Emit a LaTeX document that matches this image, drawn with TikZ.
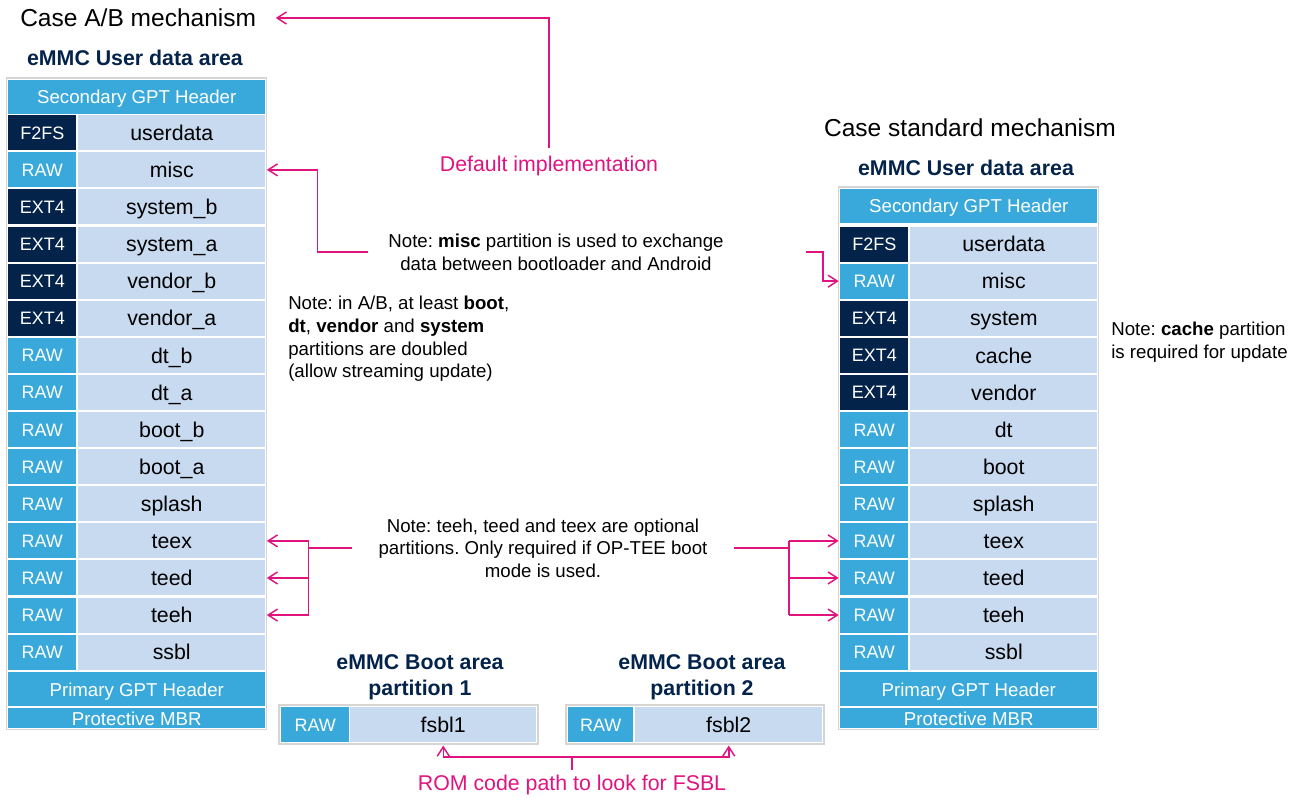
\documentclass[tikz,border=0pt]{standalone}
\usepackage{fontspec}
\setmainfont{Liberation Sans}
\usetikzlibrary{arrows.meta,positioning,calc}
\frenchspacing

\definecolor{stblue}{HTML}{39A9DC}
\definecolor{stnavy}{HTML}{03234B}
\definecolor{stpale}{HTML}{C8DAF0}
\definecolor{stpink}{HTML}{E0137F}
\definecolor{stframe}{HTML}{D5D5D5}

\tikzset{
  cell/.style={inner sep=0pt, anchor=north west, minimum height=26.25pt},
  fscell/.style={cell, fill=stnavy, text=white, minimum width=51pt,
    text height=9.7pt, text depth=0pt, font=\fontsize{13.5}{16}\selectfont},
  rawcell/.style={fscell, fill=stblue},
  namecell/.style={cell, fill=stpale, minimum width=140.25pt,
    text height=11.5pt, text depth=0pt, font=\fontsize{16}{19}\selectfont},
  hdrcell/.style={cell, fill=stblue, text=white, minimum width=192.75pt,
    minimum height=25.5pt, text height=10.1pt, text depth=0pt,
    font=\fontsize{14}{16}\selectfont},
  tableframe/.style={draw=stframe, line width=0.8pt, fill=white},
  area/.style={inner sep=0pt, text=stnavy, align=center,
    font=\bfseries\fontsize{16}{19.5}\selectfont},
  casetitle/.style={inner sep=0pt, font=\fontsize{18.4}{22}\selectfont},
  note/.style={inner sep=0pt, font=\fontsize{14}{17}\selectfont},
  pinktext/.style={inner sep=0pt, text=stpink, font=\fontsize{16}{19}\selectfont},
  pinkline/.style={draw=stpink, line width=1.1pt},
  pinkarrow/.style={pinkline, -{Straight Barb[length=7pt,width=9pt]}, shorten >=1pt},
}

\begin{document}
\begin{tikzpicture}[x=0.75pt, y=-0.75pt]
\useasboundingbox (0,0) rectangle (1305,798);

%% A/B user data area
\node[casetitle, anchor=west] (caseab) at (20,18) {Case A/B mechanism};
\node[area] (larea) at (135,58) {eMMC User data area};
\draw[tableframe] (6.5,78) rectangle (266.5,729.5);
\node[hdrcell] (lhead) at (8,80) {Secondary GPT Header};
\foreach \k/\s/\t/\n in {1/fscell/F2FS/userdata, 2/rawcell/RAW/misc,
    3/fscell/EXT4/system\_b, 4/fscell/EXT4/system\_a, 5/fscell/EXT4/vendor\_b,
    6/fscell/EXT4/vendor\_a, 7/rawcell/RAW/dt\_b, 8/rawcell/RAW/dt\_a,
    9/rawcell/RAW/boot\_b, 10/rawcell/RAW/boot\_a, 11/rawcell/RAW/splash,
    12/rawcell/RAW/teex, 13/rawcell/RAW/teed, 14/rawcell/RAW/teeh,
    15/rawcell/RAW/ssbl} {
  \node[\s] (lt\k) at (8,{115+(\k-1)*37.1}) {\t};
  \node[namecell] (ln\k) at (78,{115+(\k-1)*37.1}) {\n};
}
\node[hdrcell] (lprim) at (8,672) {Primary GPT Header};
\node[hdrcell, minimum height=15pt] (lmbr) at (8,708) {Protective MBR};

%% standard user data area
\node[casetitle] (casestd) at (970,128) {Case standard mechanism};
\node[area] (rarea) at (966,168) {eMMC User data area};
\draw[tableframe] (838.5,187) rectangle (1098.5,729.5);
\node[hdrcell] (rhead) at (840,189) {Secondary GPT Header};
\foreach \k/\s/\t/\n in {1/fscell/F2FS/userdata, 2/rawcell/RAW/misc,
    3/fscell/EXT4/system, 4/fscell/EXT4/cache, 5/fscell/EXT4/vendor,
    6/rawcell/RAW/dt, 7/rawcell/RAW/boot, 8/rawcell/RAW/splash,
    9/rawcell/RAW/teex, 10/rawcell/RAW/teed, 11/rawcell/RAW/teeh,
    12/rawcell/RAW/ssbl} {
  \node[\s] (rt\k) at (840,{115+(\k+2)*37.1}) {\t};
  \node[namecell] (rn\k) at (910,{115+(\k+2)*37.1}) {\n};
}
\node[hdrcell] (rprim) at (840,672) {Primary GPT Header};
\node[hdrcell, minimum height=15pt] (rmbr) at (840,708) {Protective MBR};

%% boot areas
\node[area] (boot1) at (420,677) {eMMC Boot area\\partition 1};
\node[area] (boot2) at (702,677) {eMMC Boot area\\partition 2};
\draw[tableframe] (279,705) rectangle (538,744);
\node[rawcell] (bt1) at (281,707) {RAW};
\node[namecell, minimum width=139.5pt] (bn1) at (350,707) {fsbl1};
\draw[tableframe] (566,705) rectangle (824,744);
\node[rawcell, minimum width=48.75pt] (bt2) at (568,707) {RAW};
\node[namecell, minimum width=140.25pt] (bn2) at (635,707) {fsbl2};

%% notes
\node[pinktext] (default) at (549,166) {Default implementation};
\node[note, align=center] (notemisc) at (556,252)
  {Note: \textbf{misc} partition is used to exchange\\data between bootloader and Android};
\node[note, align=left, anchor=west] (noteab) at (288,339)
  {Note: in A/B, at least \textbf{boot},\\\textbf{dt}, \textbf{vendor} and \textbf{system}\\partitions are doubled\\(allow streaming update)};
\node[note, align=left, anchor=west] (notecache) at (1111,342)
  {Note: \textbf{cache} partition\\is required for update};
\node[note, align=center] (notetee) at (543,548)
  {Note: teeh, teed and teex are optional\\partitions. Only required if OP-TEE boot\\mode is used.};
\node[pinktext] (rom) at (572,785) {ROM code path to look for FSBL};

%% connectors
\draw[pinkarrow] ([yshift=6pt]default.north) |- ([xshift=13.5pt]caseab.east);
\draw[pinkarrow] ([xshift=-15pt]notemisc.west) -| ([xshift=39pt]ln2.east) -- (ln2.east);
\coordinate (rmisc) at ([xshift=-25.5pt]rt2.west);
\draw[pinkarrow] (rmisc |- notemisc.east) -| ([xshift=-12.75pt]rt2.west) -- (rt2.west);

\coordinate (teel) at ([xshift=32.25pt]ln13.east);
\coordinate (teer) at ([xshift=-38.25pt]rt10.west);
\draw[pinkline] ([xshift=-20pt]notetee.west) -- (teel |- notetee.west);
\draw[pinkline] (teel |- ln12.east) -- (teel |- ln14.east);
\foreach \k in {12,13,14} \draw[pinkarrow] (teel |- ln\k.east) -- (ln\k.east);
\draw[pinkline] ([xshift=20pt]notetee.east) -- (teer |- notetee.east);
\draw[pinkline] (teer |- rt9.west) -- (teer |- rt11.west);
\foreach \k in {9,10,11} \draw[pinkarrow] (teer |- rt\k.west) -- (rt\k.west);

\coordinate (romjoin) at ([yshift=13.5pt]rom.north);
\draw[pinkline] ([yshift=3.75pt]rom.north) -- (romjoin);
\draw[pinkarrow, shorten >=2.25pt] (romjoin) -| (bn1.south);
\draw[pinkarrow, shorten >=2.25pt] (romjoin) -| (bn2.south);
\end{tikzpicture}
\end{document}
